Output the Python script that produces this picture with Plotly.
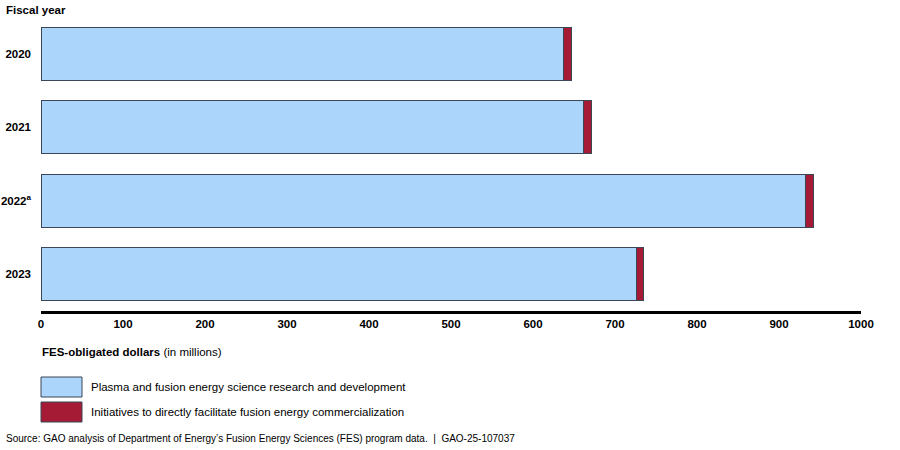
import plotly.graph_objects as go

years = ["2020", "2021", "2022", "2023"]
year_labels = ["<b>2020</b>", "<b>2021</b>", "<b>2022<sup>a</sup></b>", "<b>2023</b>"]
research = [637, 662, 932, 726]
commercial = [9.5, 9.5, 10, 8.5]
series_names = ["Plasma and fusion energy science research and development",
                "Initiatives to directly facilitate fusion energy commercialization"]
colors = ["#acd5fc", "#a51a34"]
x_ticks = [0, 100, 200, 300, 400, 500, 600, 700, 800, 900, 1000]

fig = go.Figure()
for vals, name, col in zip([research, commercial], series_names, colors):
    fig.add_trace(go.Bar(y=years, x=vals, orientation="h", name=name,
                         marker=dict(color=col, line=dict(color="#3b4656", width=1)),
                         width=0.72))

PW, PH = 820, 294
fig.update_layout(
    barmode="stack", width=900, height=450, showlegend=False,
    plot_bgcolor="white", paper_bgcolor="white",
    margin=dict(l=41, r=39, t=17, b=139),
    font=dict(family="Liberation Sans, Arial, sans-serif", color="black"),
    xaxis=dict(range=[0, 1000], tickvals=x_ticks, ticktext=[f"<b>{v}</b>" for v in x_ticks],
               showgrid=False, zeroline=False, showline=True, linecolor="black", linewidth=3,
               ticks="", tickfont=dict(size=11.5), automargin=False),
    yaxis=dict(categoryorder="array", categoryarray=years, range=[3.5, -0.5],
               tickvals=years, ticktext=year_labels, showgrid=False, zeroline=False,
               showline=False, ticks="", tickfont=dict(size=11.5), ticklabelstandoff=9,
               automargin=False),
)

fig.add_annotation(text="<b>Fiscal year</b>", xref="paper", yref="paper", x=(4 - 41) / PW,
                   y=(311 - 10) / PH, xanchor="left", yanchor="middle", showarrow=False,
                   font=dict(size=11.5))
fig.add_annotation(text="<b>FES-obligated dollars</b> (in millions)", xref="paper", yref="paper",
                   x=-1 / PW, y=(311 - 352) / PH, xanchor="left", yanchor="middle", showarrow=False,
                   font=dict(size=11.5))

# custom legend
leg_y = [387, 412]
for yy, name, col in zip(leg_y, series_names, colors):
    fig.add_shape(type="rect", xref="paper", yref="paper", x0=0, x1=41 / PW,
                  y0=(311 - (yy + 10)) / PH, y1=(311 - (yy - 10)) / PH,
                  fillcolor=col, line=dict(color="#3b4656", width=1))
    fig.add_annotation(text=name, xref="paper", yref="paper", x=(89 - 41) / PW, y=(311 - yy) / PH,
                       xanchor="left", yanchor="middle", showarrow=False, font=dict(size=11.5))

fig.add_annotation(
    text="Source: GAO analysis of Department of Energy\u2019s Fusion Energy Sciences (FES) program data.  |  GAO-25-107037",
    xref="paper", yref="paper", x=(4 - 41) / PW, y=(311 - 438) / PH, xanchor="left", yanchor="middle",
    showarrow=False, font=dict(size=10))

fig.write_html("out.html", config={"displayModeBar": False},
               post_script="document.body.style.margin='0';document.body.style.overflow='hidden';")
